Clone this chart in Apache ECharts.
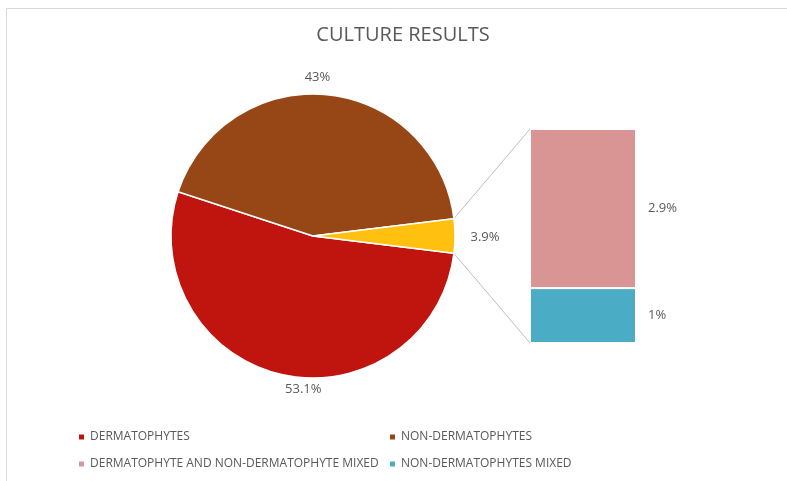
<!DOCTYPE html>
<html>
<head>
<meta charset="utf-8">
<script src="https://cdn.jsdelivr.net/npm/echarts@6/dist/echarts.min.js"></script>
<style>
  html, body { margin: 0; padding: 0; background: #fff; }
  #chart { width: 787px; height: 481px; }
</style>
</head>
<body>
<div id="chart"></div>
<script>
// pie slices, in percent
var pieNames = ['DERMATOPHYTES', 'NON-DERMATOPHYTES', 'OTHER'];
var pieValues = [53.1, 43, 3.9];
// split of the small slice, stacked bottom to top
var barNames = ['NON-DERMATOPHYTES MIXED', 'DERMATOPHYTE AND NON-DERMATOPHYTE MIXED'];
var barValues = [1, 2.9];
var legendNames = ['DERMATOPHYTES', 'NON-DERMATOPHYTES', 'DERMATOPHYTE AND NON-DERMATOPHYTE MIXED', 'NON-DERMATOPHYTES MIXED'];

var pieColors = ['#C0150F', '#974716', '#FFC010'];
var barColors = ['#4BACC6', '#D99594'];
var textColor = '#595959';
var font = 'Open Sans';

var cx = 313, cy = 236, radius = 142;
var labelR = 159;
// small nudges so the pie labels sit where excel put them
var labelNudge = [[25, -2], [-11, 0], [13, 1]];

var total = pieValues.reduce(function (a, b) { return a + b; }, 0);
// keep the small slice centred on 3 o'clock
var half = pieValues[2] / total * 360 / 2;

// mid angle (math degrees) of each slice, clockwise from -half
var midAngles = [];
var acc = -half;
pieValues.forEach(function (v) {
  var span = v / total * 360;
  midAngles.push(acc - span / 2);
  acc -= span;
});

var chart = echarts.init(document.getElementById('chart'));

var legendPos = [[77, 431], [388, 431], [77, 458], [388, 458]];
var legends = legendNames.map(function (name, i) {
  return {
    data: [name],
    left: legendPos[i][0],
    top: legendPos[i][1],
    padding: 0,
    icon: 'rect',
    itemWidth: 7,
    itemHeight: 7,
    itemGap: 4,
    selectedMode: false,
    textStyle: { color: textColor, fontSize: 12, fontFamily: font }
  };
});

var barSeries = barNames.map(function (name, i) {
  return {
    name: name,
    type: 'bar',
    stack: 'other',
    barWidth: '100%',
    data: [barValues[i]],
    itemStyle: { color: barColors[i], borderColor: '#fff', borderWidth: 1 },
    label: {
      show: true,
      position: 'right',
      distance: 12,
      formatter: '{c}%',
      color: textColor,
      fontSize: 13,
      fontFamily: font
    }
  };
});

chart.setOption({
  animation: false,
  backgroundColor: '#fff',
  title: {
    text: 'CULTURE RESULTS',
    left: 398,
    top: 20,
    textAlign: 'center',
    textStyle: { color: textColor, fontSize: 20, fontWeight: 'normal', fontFamily: font }
  },
  legend: legends,
  grid: { left: 530, top: 129, width: 106, height: 214 },
  xAxis: { type: 'category', data: ['OTHER'], show: false },
  yAxis: { type: 'value', min: 0, max: pieValues[2], show: false },
  series: [{
    type: 'pie',
    center: [cx, cy],
    radius: radius,
    startAngle: -half,
    clockwise: true,
    data: pieNames.map(function (n, i) {
      return { name: n, value: pieValues[i], itemStyle: { color: pieColors[i] } };
    }),
    itemStyle: { borderColor: '#fff', borderWidth: 1.5 },
    label: {
      show: true,
      position: 'outside',
      formatter: '{c}%',
      color: textColor,
      fontSize: 13,
      fontFamily: font
    },
    labelLine: { show: false },
    labelLayout: function (params) {
      var i = params.dataIndex;
      var ang = midAngles[i] * Math.PI / 180;
      return {
        x: cx + labelR * Math.cos(ang) + labelNudge[i][0],
        y: cy - labelR * Math.sin(ang) + labelNudge[i][1],
        align: 'center',
        verticalAlign: 'middle'
      };
    },
    emphasis: { disabled: true }
  }].concat(barSeries)
});

// connector lines from the small slice to the bar
var a = half * Math.PI / 180;
var topPt = chart.convertToPixel({ gridIndex: 0 }, [0, pieValues[2]]);
var botPt = chart.convertToPixel({ gridIndex: 0 }, [0, 0]);
var barLeft = topPt[0] - 106 / 2;
var lineStyle = { stroke: '#BFBFBF', lineWidth: 1 };
chart.setOption({
  graphic: [
    { type: 'line', shape: { x1: cx + radius * Math.cos(a), y1: cy - radius * Math.sin(a), x2: barLeft, y2: topPt[1] }, style: lineStyle, silent: true },
    { type: 'line', shape: { x1: cx + radius * Math.cos(a), y1: cy + radius * Math.sin(a), x2: barLeft, y2: botPt[1] }, style: lineStyle, silent: true },
    { type: 'rect', shape: { x: 6.5, y: 8.5, width: 800, height: 500 }, style: { fill: null, stroke: '#D9D9D9', lineWidth: 1 }, silent: true, z: -1 }
  ]
});
</script>
</body>
</html>
